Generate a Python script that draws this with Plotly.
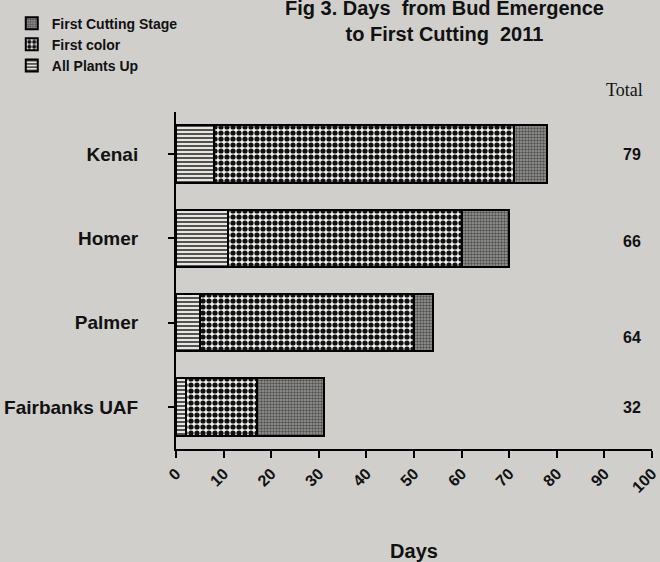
import plotly.graph_objects as go

sites = ["Kenai", "Homer", "Palmer", "Fairbanks UAF"]
plants_up = [8, 11, 5, 2]
first_color = [63, 49, 45, 15]
first_cutting = [7, 10, 4, 14]
totals = [79, 66, 64, 32]
day_ticks = [0, 10, 20, 30, 40, 50, 60, 70, 80, 90, 100]

bg = "#d0cfcc"
line = dict(color="black", width=2)

fig = go.Figure()

fig.add_trace(go.Bar(y=sites, x=plants_up, orientation="h", name="All Plants Up",
                     marker=dict(color="#e6e5e2", line=line,
                                 pattern=dict(shape="-", fgcolor="#111", bgcolor="#e6e5e2",
                                              size=4, solidity=0.35, fillmode="replace"))))
fig.add_trace(go.Bar(y=sites, x=first_color, orientation="h", name="First color",
                     marker=dict(color="white", line=line,
                                 pattern=dict(shape=".", fgcolor="#111", bgcolor="#f2f2f0",
                                              size=6, solidity=0.6, fillmode="replace"))))
fig.add_trace(go.Bar(y=sites, x=first_cutting, orientation="h", name="First Cutting Stage",
                     marker=dict(color="#7a7a78", line=line,
                                 pattern=dict(shape=".", fgcolor="#505050", bgcolor="#9a9a98",
                                              size=3, solidity=0.5, fillmode="replace"))))

fig.add_annotation(x=0.985, y=1.03, xref="paper", yref="paper", text="Total",
                   showarrow=False, xanchor="right", yanchor="bottom",
                   font=dict(family="Liberation Serif", size=18, color="#111"))
shifts = [0, -3, -15, -1]
for t, s, dy in zip(totals, sites, shifts):
    fig.add_annotation(x=0.958, xref="paper", y=s, yref="y", text="<b>%d</b>" % t,
                       showarrow=False, xanchor="center", yshift=dy,
                       font=dict(family="Liberation Sans", size=16, color="#111"))

fig.add_annotation(x=0.565, y=1.27, xref="paper", yref="paper",
                   text="<b>Fig 3. Days  from Bud Emergence<br>to First Cutting  2011</b>",
                   showarrow=False, xanchor="center", yanchor="middle",
                   font=dict(family="Liberation Sans", size=20, color="#111"))

fig.update_layout(
    width=660, height=562,
    paper_bgcolor=bg, plot_bgcolor=bg,
    barmode="stack", bargap=0.32,
    margin=dict(l=176, r=8, t=107, b=113),
    font=dict(family="Liberation Sans", color="#111"),
    legend=dict(x=-0.345, y=1.31, xanchor="left", yanchor="top", traceorder="reversed",
                bgcolor="rgba(0,0,0,0)", font=dict(size=14, weight="bold"),
                tracegroupgap=0),
    xaxis=dict(range=[0, 100], tickvals=day_ticks, tickangle=-45, showgrid=False,
               zeroline=False, showline=True, linecolor="black", linewidth=2,
               ticks="outside", ticklen=7, tickwidth=2, tickcolor="black",
               ticklabeloverflow="allow", automargin=False,
               tickfont=dict(size=16, family="Liberation Sans", weight="bold"),
               title=dict(text="<b>Days</b>", font=dict(size=20), standoff=62)),
    yaxis=dict(autorange="reversed", showgrid=False, showline=True, linecolor="black",
               linewidth=2, ticks="outside", ticklen=6, tickwidth=1.5, tickcolor="black",
               ticklabelstandoff=26, automargin=False,
               tickfont=dict(size=19, family="Liberation Sans", weight="bold")),
)

fig.write_html("out.html", config={"displayModeBar": False},
               post_script="document.body.style.margin='0';")
